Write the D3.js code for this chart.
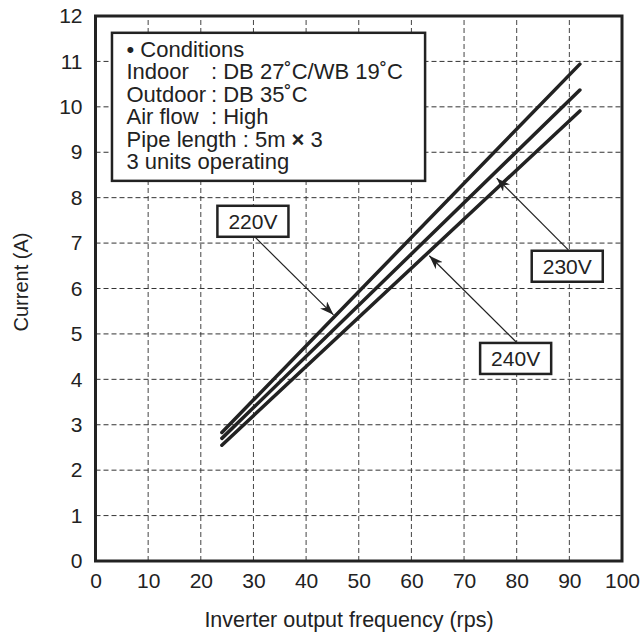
<!DOCTYPE html>
<html>
<head>
<meta charset="utf-8">
<script src="https://cdn.jsdelivr.net/npm/d3@7"></script>
<style>
  body { margin: 0; background: #fff; }
  svg text { font-family: 'Liberation Sans', Arial, Helvetica, sans-serif; fill: #222; }
</style>
</head>
<body>
<div id="visualization"></div>
<script>
// values
const freqTicks = [0, 10, 20, 30, 40, 50, 60, 70, 80, 90, 100]
const currentTicks = [0, 1, 2, 3, 4, 5, 6, 7, 8, 9, 10, 11, 12]

const freq = [24, 92]
const amps220 = [2.83, 10.94]
const amps230 = [2.70, 10.37]
const amps240 = [2.55, 9.91]

const voltages = ['220V', '230V', '240V']
// label centre [freq, current], arrow tail and arrow tip in data units
const labelPos = [[29.9, 7.48], [89.6, 6.49], [79.8, 4.46]]
const arrowFrom = [[30.3, 7.13], [89.8, 6.85], [80.0, 4.81]]
const arrowTo = [[45.2, 5.42], [76.2, 8.43], [63.4, 6.72]]

const condLabels = ['• Conditions', 'Indoor', 'Outdoor', 'Air flow', 'Pipe length : 5m ', '3 units operating']
const condValues = [null, ': DB 27˚C/WB 19˚C', ': DB 35˚C', ': High', null, null]

const width = 642
const height = 637
const margin = { top: 16, right: 20, bottom: 76, left: 95.5 }

const svg = d3.select('#visualization')
  .append('svg')
  .attr('id', 'canvas')
  .attr('width', width)
  .attr('height', height)

const x = d3.scaleLinear().domain([0, 100]).range([margin.left, width - margin.right])
const y = d3.scaleLinear().domain([0, 12]).range([height - margin.bottom, margin.top])

svg.append('defs').append('marker')
  .attr('id', 'arrow')
  .attr('markerUnits', 'userSpaceOnUse')
  .attr('markerWidth', 16)
  .attr('markerHeight', 10)
  .attr('refX', 14)
  .attr('refY', 5)
  .attr('orient', 'auto')
  .append('path')
  .attr('d', 'M0,0 L14,5 L0,10 L4,5 Z')
  .attr('fill', '#222')

// dashed grid
const grid = svg.append('g').attr('class', 'grid')
grid.selectAll('.vgrid')
  .data(freqTicks.slice(1, -1))
  .join('line')
  .attr('x1', d => x(d))
  .attr('x2', d => x(d))
  .attr('y1', y(0))
  .attr('y2', y(12))
  .attr('stroke', '#444')
  .attr('stroke-width', 1)
  .attr('stroke-dasharray', '5,3')
grid.selectAll('.hgrid')
  .data(currentTicks.slice(1, -1))
  .join('line')
  .attr('x1', x(0))
  .attr('x2', x(100))
  .attr('y1', d => y(d))
  .attr('y2', d => y(d))
  .attr('stroke', '#333')
  .attr('stroke-width', 1)
  .attr('stroke-dasharray', '5,3')

// axes (labels only, frame drawn as rect)
const xAxis = svg.append('g')
  .attr('transform', `translate(0,${y(0)})`)
  .call(d3.axisBottom(x).tickValues(freqTicks).tickSize(0).tickPadding(18))
const yAxis = svg.append('g')
  .attr('transform', `translate(${x(0)},0)`)
  .call(d3.axisLeft(y).tickValues(currentTicks).tickSize(0).tickPadding(13))
xAxis.select('.domain').remove()
yAxis.select('.domain').remove()
svg.selectAll('.tick text')
  .attr('font-size', 21)
  .attr('fill', '#222')
  .style('font-family', "'Liberation Sans', Arial, sans-serif")
xAxis.selectAll('.tick text').attr('dy', '0.45em')

svg.append('rect')
  .attr('x', x(0))
  .attr('y', y(12))
  .attr('width', x(100) - x(0))
  .attr('height', y(0) - y(12))
  .attr('fill', 'none')
  .attr('stroke', '#222')
  .attr('stroke-width', 3)

// axis titles
svg.append('text')
  .attr('x', 349)
  .attr('y', 627)
  .attr('text-anchor', 'middle')
  .attr('font-size', 21.5)
  .text('Inverter output frequency (rps)')
svg.append('text')
  .attr('transform', 'translate(28,282) rotate(-90)')
  .attr('text-anchor', 'middle')
  .attr('font-size', 20)
  .text('Current (A)')

// current lines
const line = d3.line()
  .x((d, i) => x(freq[i]))
  .y(d => y(d))
svg.selectAll('.series')
  .data([amps220, amps230, amps240])
  .join('path')
  .attr('class', 'series')
  .attr('d', line)
  .attr('fill', 'none')
  .attr('stroke', '#222')
  .attr('stroke-width', 3.5)
  .attr('stroke-linecap', 'round')

// conditions box
const condBox = svg.append('g')
condBox.append('rect')
  .attr('x', x(3.13))
  .attr('y', y(11.63))
  .attr('width', x(62.6) - x(3.13))
  .attr('height', y(8.37) - y(11.63))
  .attr('fill', '#fff')
  .attr('stroke', '#222')
  .attr('stroke-width', 2.5)
condBox.selectAll('text.cond-label')
  .data(condLabels)
  .join('text')
  .attr('class', 'cond-label')
  .attr('x', 126.5)
  .attr('y', (d, i) => 57 + i * 22.4)
  .attr('font-size', 22)
  .each(function (d, i) {
    const t = d3.select(this)
    t.append('tspan').text(d)
    if (i === 4) {
      t.append('tspan').attr('font-weight', 'bold').text('×')
      t.append('tspan').text(' 3')
    }
  })
condBox.selectAll('text.cond-value')
  .data(condValues.map((v, i) => ({ v, i })).filter(d => d.v))
  .join('text')
  .attr('class', 'cond-value')
  .attr('x', 211)
  .attr('y', d => 57 + d.i * 22.4)
  .attr('font-size', 22)
  .text(d => d.v)

// voltage annotations
voltages.forEach((v, i) => {
  svg.append('line')
    .attr('x1', x(arrowFrom[i][0]))
    .attr('y1', y(arrowFrom[i][1]))
    .attr('x2', x(arrowTo[i][0]))
    .attr('y2', y(arrowTo[i][1]))
    .attr('stroke', '#222')
    .attr('stroke-width', 1.2)
    .attr('marker-end', 'url(#arrow)')

  const g = svg.append('g')
  const rect = g.append('rect')
  const t = g.append('text')
    .attr('x', x(labelPos[i][0]))
    .attr('y', y(labelPos[i][1]))
    .attr('dy', '0.36em')
    .attr('text-anchor', 'middle')
    .attr('font-size', 21)
    .text(v)
  const bb = t.node().getBBox()
  rect.attr('x', bb.x - 11)
    .attr('y', y(labelPos[i][1]) - 15.5)
    .attr('width', bb.width + 22)
    .attr('height', 31)
    .attr('fill', '#fff')
    .attr('stroke', '#222')
    .attr('stroke-width', 2.5)
})
</script>
</body>
</html>
